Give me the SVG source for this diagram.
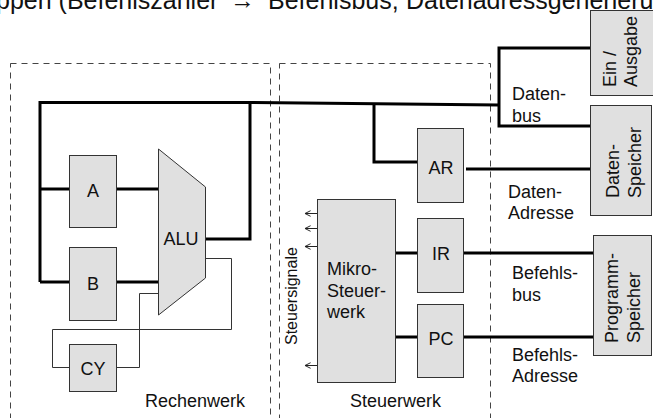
<svg xmlns="http://www.w3.org/2000/svg" width="653" height="418" viewBox="0 0 653 418">
  <defs>
    <style>
      text { font-family: "Liberation Sans", Arial, sans-serif; font-size: 18px; fill: #111; }
      .lbl-c { text-anchor: middle; }
      .small { font-size: 16px; }
      .head { font-size: 25px; }
      .block { fill: #e0e0e0; stroke: #333; stroke-width: 1; }
      .area { fill: none; stroke: #444; stroke-width: 1; stroke-dasharray: 6 5; }
      .bus { fill: none; stroke: #000; stroke-width: 3; stroke-linejoin: miter; }
      .wire { fill: none; stroke: #333; stroke-width: 1; }
      .sig { fill: none; stroke: #222; stroke-width: 1; marker-end: url(#open-arrow); }
    </style>
    <marker id="open-arrow" viewBox="0 0 10 10" refX="9" refY="5" markerWidth="7" markerHeight="7" markerUnits="userSpaceOnUse" orient="auto">
      <path d="M1,1 L9,5 L1,9" fill="none" stroke="#222" stroke-width="1.4"/>
    </marker>
  </defs>

  <rect width="653" height="418" fill="#fff"/>

  <!-- running text line above the figure -->
  <text class="head" y="9"><tspan x="-4">ppen (Befehlszähler</tspan><tspan x="230">→</tspan><tspan x="268">Befehlsbus;</tspan><tspan x="406">Datenadressgenerierung)</tspan></text>

  <!-- functional areas -->
  <g id="rechenwerk">
    <rect class="area" x="10.5" y="63.5" width="260" height="380"/>
    <text x="145" y="407">Rechenwerk</text>
  </g>
  <g id="steuerwerk">
    <rect class="area" x="279.5" y="63.5" width="211" height="380"/>
    <text x="350" y="407">Steuerwerk</text>
  </g>

  <!-- connectors -->
  <g id="connectors">
    <!-- data bus and accumulator loop -->
    <polyline class="bus" points="40,282 40,102.5 250,102.5 499,105"/>
    <polyline class="bus" points="250,102.5 250,239 205,239"/>
    <line class="bus" x1="40" y1="189" x2="69" y2="189"/>
    <line class="bus" x1="40" y1="282" x2="69" y2="282"/>
    <line class="bus" x1="116" y1="189" x2="158" y2="189"/>
    <line class="bus" x1="116" y1="282" x2="158" y2="282"/>
    <polyline class="bus" points="590,48 499,48 499,126 590,126"/>
    <polyline class="bus" points="374,103.5 374,162 417,162"/>
    <line class="bus" x1="466" y1="169" x2="590" y2="169"/>
    <!-- instruction side -->
    <line class="bus" x1="395" y1="253" x2="417" y2="253"/>
    <line class="bus" x1="463" y1="253" x2="593" y2="253"/>
    <line class="bus" x1="395" y1="337" x2="417" y2="337"/>
    <line class="bus" x1="463" y1="337" x2="593" y2="337"/>
    <!-- carry loop -->
    <polyline class="wire" points="205,258.5 231.5,258.5 231.5,329.5 52.5,329.5 52.5,367.5 69,367.5"/>
    <polyline class="wire" points="116,367.5 139.5,367.5 139.5,293.5 158,293.5"/>
    <!-- control signals -->
    <line class="sig" x1="317" y1="213.5" x2="305" y2="213.5"/>
    <line class="sig" x1="317" y1="228.5" x2="305" y2="228.5"/>
    <line class="sig" x1="317" y1="246.5" x2="305" y2="246.5"/>
    <line class="sig" x1="317" y1="365.5" x2="305" y2="365.5"/>
  </g>

  <!-- arithmetic unit -->
  <g id="reg-a">
    <rect class="block" x="69.5" y="155.5" width="47" height="72"/>
    <text class="lbl-c" x="93" y="196.5">A</text>
  </g>
  <g id="reg-b">
    <rect class="block" x="69.5" y="247.5" width="47" height="73"/>
    <text class="lbl-c" x="93" y="289.5">B</text>
  </g>
  <g id="reg-cy">
    <rect class="block" x="69.5" y="344.5" width="47" height="47"/>
    <text class="lbl-c" x="93" y="374.5">CY</text>
  </g>
  <g id="alu">
    <polygon class="block" points="158.5,149 205.5,187 205.5,278 158.5,315"/>
    <text class="lbl-c" x="181" y="245">ALU</text>
  </g>

  <!-- control unit -->
  <g id="reg-ar">
    <rect class="block" x="417.5" y="128.5" width="46" height="74"/>
    <text class="lbl-c" x="441" y="174">AR</text>
  </g>
  <g id="mikro-steuerwerk">
    <rect class="block" x="317.5" y="199.5" width="78" height="183"/>
    <text x="327" y="275">Mikro-</text>
    <text x="327" y="297">Steuer-</text>
    <text x="327" y="318">werk</text>
  </g>
  <g id="reg-ir">
    <rect class="block" x="417.5" y="218.5" width="46" height="74"/>
    <text class="lbl-c" x="441" y="260">IR</text>
  </g>
  <g id="reg-pc">
    <rect class="block" x="417.5" y="304.5" width="46" height="73"/>
    <text class="lbl-c" x="441" y="345">PC</text>
  </g>
  <text class="small" transform="translate(297,345) rotate(-90)">Steuersignale</text>

  <!-- bus labels -->
  <g id="bus-labels">
    <text x="512" y="100">Daten-</text>
    <text x="512" y="122">bus</text>
    <text x="508" y="198">Daten-</text>
    <text x="508" y="219">Adresse</text>
    <text x="512" y="279">Befehls-</text>
    <text x="512" y="301">bus</text>
    <text x="512" y="361">Befehls-</text>
    <text x="512" y="382">Adresse</text>
  </g>

  <!-- external units -->
  <g id="ein-ausgabe">
    <rect class="block" x="590.5" y="10.5" width="70" height="85"/>
    <text transform="translate(616,87) rotate(-90)">Ein /</text>
    <text transform="translate(637,87) rotate(-90)">Ausgabe</text>
  </g>
  <g id="daten-speicher">
    <rect class="block" x="590.5" y="105.5" width="61" height="110"/>
    <text transform="translate(619,198) rotate(-90)">Daten-</text>
    <text transform="translate(641,198) rotate(-90)">Speicher</text>
  </g>
  <g id="programm-speicher">
    <rect class="block" x="593.5" y="235.5" width="58" height="120"/>
    <text transform="translate(618,343) rotate(-90)">Programm-</text>
    <text transform="translate(640,343) rotate(-90)">Speicher</text>
  </g>
</svg>
